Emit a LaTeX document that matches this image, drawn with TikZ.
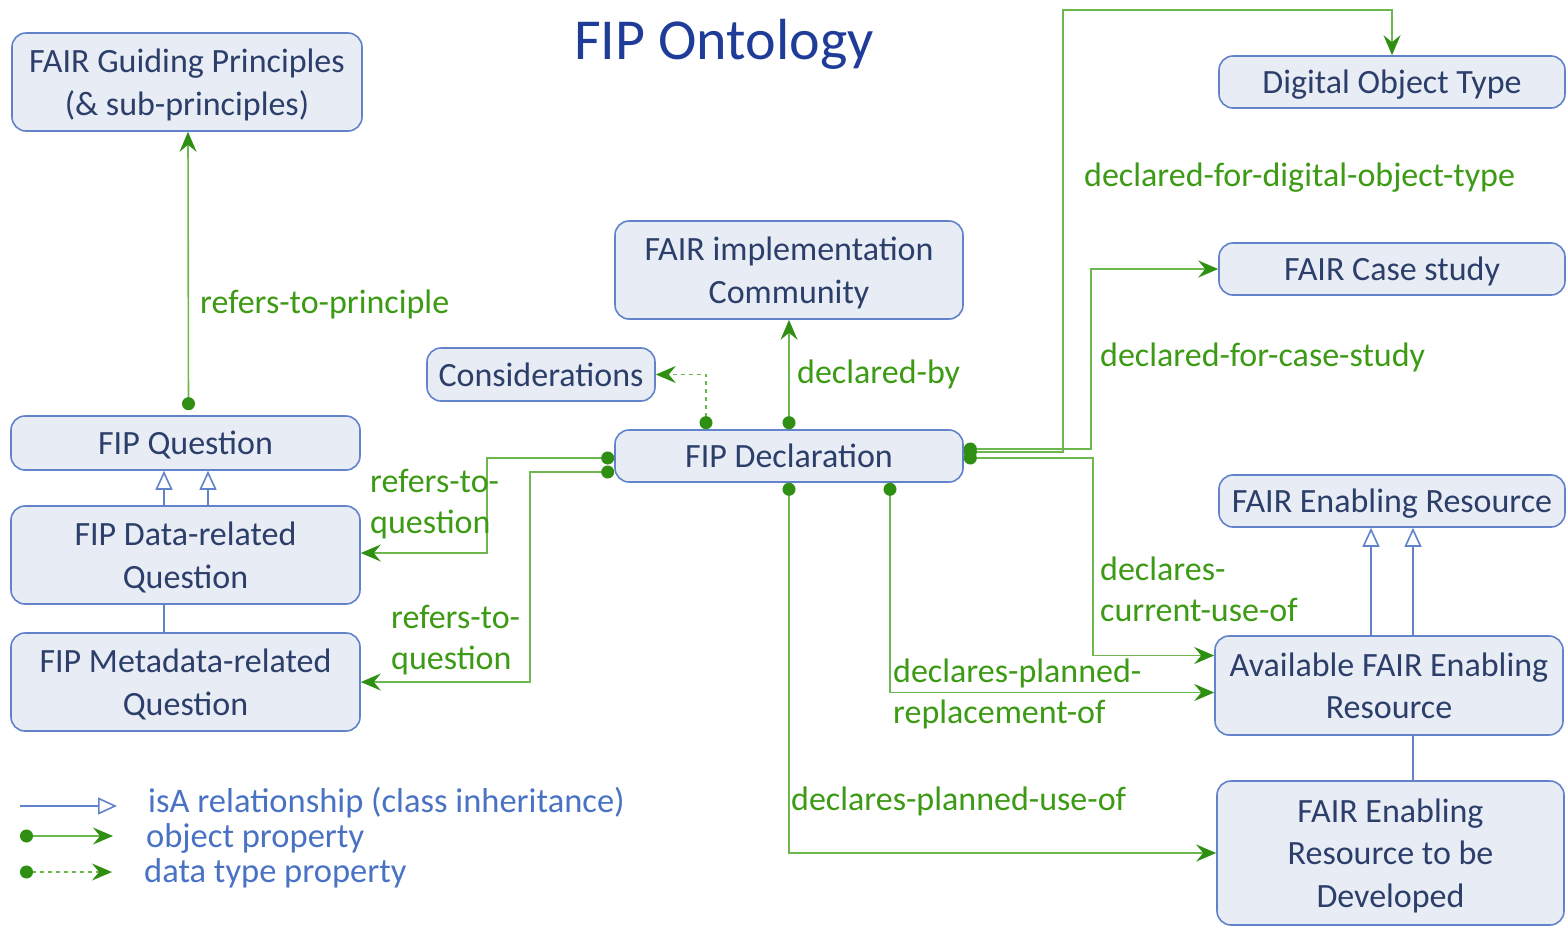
\documentclass[tikz,border=0pt]{standalone}
\usepackage{fontspec}
\setmainfont{Carlito}
\usetikzlibrary{arrows.meta,backgrounds,calc}

\definecolor{boxfill}{HTML}{E8ECF5}
\definecolor{boxline}{HTML}{6283C9}
\definecolor{boxtext}{HTML}{2C3E6A}
\definecolor{lgreen}{HTML}{6DB84E}
\definecolor{dgreen}{HTML}{2F8F12}
\definecolor{lbltext}{HTML}{3C9A14}
\definecolor{legtext}{HTML}{4A72C4}
\definecolor{titletext}{HTML}{1F3C99}

\tikzset{
  cls/.style={draw=boxline, fill=boxfill, line width=1.6pt, rounded corners=14pt,
    text=boxtext, font=\fontsize{34}{42.5}\selectfont, align=center, inner sep=0pt,
    text depth=0pt},
  lbl/.style={text=lbltext, font=\fontsize{34}{41}\selectfont, align=left,
    anchor=west, inner sep=0pt},
  legend/.style={text=legtext, font=\fontsize{34.5}{41}\selectfont, anchor=west, inner sep=0pt},
  objp/.style={draw=lgreen, line width=1.6pt,
    {Circle[length=13pt,color=dgreen,fill=dgreen]}-{Stealth[length=20pt,width=17pt,inset=7pt,color=dgreen,fill=dgreen]}},
  datap/.style={objp, dash pattern=on 4pt off 4pt},
  isa/.style={draw=boxline, line width=1.6pt,
    -{Triangle[open,length=19pt,width=17pt,color=boxline,fill=white]}}
}

\begin{document}
\begin{tikzpicture}[x=1pt,y=-1pt]
\useasboundingbox (0,0) rectangle (1566,930);

% title
\node[text=titletext, font=\fontsize{58}{64}\selectfont, inner sep=0pt] (title) at (724,44) {FIP Ontology};

% classes
\node[cls, minimum width=350pt, minimum height=98pt] (fgp) at (187,82) {FAIR Guiding Principles\\(\& sub-principles)};
\node[cls, minimum width=349pt, minimum height=54pt] (fq) at (185.5,443) {FIP Question};
\node[cls, minimum width=349pt, minimum height=98pt] (fdq) at (185.5,555) {FIP Data-related\\Question};
\node[cls, minimum width=349pt, minimum height=98pt] (fmq) at (185.5,682) {FIP Metadata-related\\Question};
\node[cls, minimum width=228pt, minimum height=53pt] (cons) at (541,374.5) {Considerations};
\node[cls, minimum width=348pt, minimum height=98pt] (fic) at (789,270) {FAIR implementation\\Community};
\node[cls, minimum width=348pt, minimum height=52pt] (fd) at (789,456) {FIP Declaration};
\node[cls, minimum width=346pt, minimum height=52pt] (dot) at (1392,82) {Digital Object Type};
\node[cls, minimum width=346pt, minimum height=52pt] (fcs) at (1392,269) {FAIR Case study};
\node[cls, minimum width=346pt, minimum height=52pt] (fer) at (1392,501) {FAIR Enabling Resource};
\node[cls, minimum width=348pt, minimum height=99pt] (afer) at (1389,685.5) {Available FAIR Enabling\\Resource};
\node[cls, minimum width=347pt, minimum height=144pt] (ferd) at (1390.5,853) {FAIR Enabling\\Resource to be\\Developed};

% subclass links that pass behind a box
\begin{pgfonlayer}{background}
  \draw[isa] ([xshift=-21.5pt]fmq.north) -- ([xshift=-21.5pt]fq.south);
  \draw[isa] ([xshift=22.5pt]ferd.north) -- ([xshift=22.5pt]ferd.north |- fer.south);
\end{pgfonlayer}
\draw[isa] ([xshift=22.5pt]fdq.north) -- ([xshift=22.5pt]fq.south);
\draw[isa] ([xshift=-18pt]afer.north) -- ([xshift=-18pt]afer.north |- fer.south);

% object properties
\draw[objp] ([xshift=3pt,yshift=5pt]fq.north) -- ([xshift=1pt]fgp.south);
\draw[objp] ([yshift=-2pt]fd.west) -- ++(-127,0) |- ([yshift=2pt]fdq.east);
\draw[objp] ([yshift=-16pt]fd.west) -- ++(-84,0) |- (fmq.east);
\draw[objp] (fd.north) -- (fic.south);
\draw[objp] ([yshift=4pt]fd.east) -- ++(99,0) -- ++(0,-442) -| (dot.north);
\draw[objp] ([yshift=7pt]fd.east) -- ++(127,0) |- (fcs.west);
\draw[objp] ([yshift=-2pt]fd.east) -- ++(129,0) |- ([yshift=30pt]afer.west);
\draw[objp] ([xshift=101pt]fd.south) |- ([yshift=-7pt]afer.west);
\draw[objp] (fd.south) |- (ferd.west);

% data type property
\draw[datap] ([xshift=-83pt]fd.north) |- (cons.east);

% property labels
\node[lbl] (l1) at (200,304) {refers-to-principle};
\node[lbl] (l2) at (370,504.5) {refers-to-\\question};
\node[lbl] (l3) at (391,640.5) {refers-to-\\question};
\node[lbl] (l4) at (797,374) {declared-by};
\node[lbl] (l5) at (1084,178) {declared-for-digital-object-type};
\node[lbl] (l6) at (1100,357) {declared-for-case-study};
\node[lbl] (l7) at (1100,589.5) {declares-\\current-use-of};
\node[lbl] (l8) at (893,693.5) {declares-planned-\\replacement-of};
\node[lbl] (l9) at (791,801) {declares-planned-use-of};

% legend
\coordinate (k1a) at (20,806);  \coordinate (k1b) at (117,806);
\coordinate (k2a) at (20,836);  \coordinate (k2b) at (113,836);
\coordinate (k3a) at (20,872);  \coordinate (k3b) at (112,872);
\draw[isa] (k1a) -- (k1b);
\draw[objp] (k2a) -- (k2b);
\draw[datap] (k3a) -- (k3b);
\node[legend] (t1) at (148,803) {isA relationship (class inheritance)};
\node[legend] (t2) at (146,838) {object property};
\node[legend] (t3) at (144,873) {data type property};
\end{tikzpicture}
\end{document}
